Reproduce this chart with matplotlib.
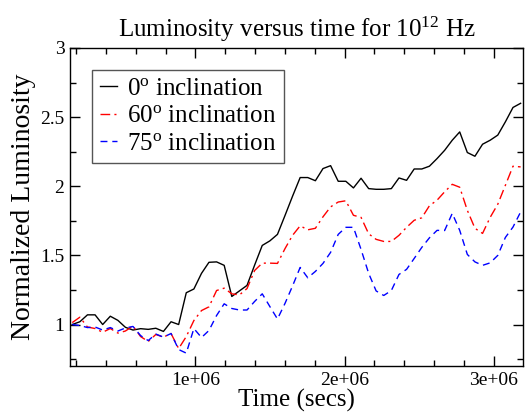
import matplotlib
matplotlib.use("Agg")
import matplotlib.pyplot as plt
from matplotlib.ticker import MultipleLocator, FuncFormatter

plt.rcParams['font.family'] = ['Liberation Serif', 'DejaVu Serif']
plt.rcParams['mathtext.fontset'] = 'custom'
plt.rcParams['mathtext.rm'] = 'Liberation Serif'
plt.rcParams['mathtext.it'] = 'Liberation Serif:italic'

# time in units of 1e6 s
time_1e6 = [0.175, 0.226, 0.277, 0.328, 0.379, 0.430, 0.481, 0.531, 0.582, 0.633,
            0.684, 0.735, 0.786, 0.837, 0.888, 0.939, 0.990, 1.041, 1.091, 1.142,
            1.193, 1.244, 1.295, 1.346, 1.397, 1.448, 1.499, 1.550, 1.601, 1.651,
            1.702, 1.753, 1.804, 1.855, 1.906, 1.957, 2.008, 2.059, 2.110, 2.161,
            2.211, 2.262, 2.313, 2.364, 2.415, 2.466, 2.517, 2.568, 2.619, 2.670,
            2.721, 2.771, 2.822, 2.873, 2.924, 2.975, 3.026, 3.077, 3.128, 3.179]

lum_0deg = [1.00, 1.02, 1.07, 1.07, 1.00, 1.06, 1.03, 0.98, 0.96, 0.97,
            0.965, 0.973, 0.95, 1.02, 1.00, 1.23, 1.257, 1.37, 1.45, 1.453,
            1.428, 1.203, 1.243, 1.283, 1.43, 1.572, 1.605, 1.652, 1.79, 1.928,
            2.063, 2.063, 2.04, 2.128, 2.149, 2.036, 2.036, 1.988, 2.058, 1.983,
            1.978, 1.978, 1.983, 2.06, 2.043, 2.125, 2.125, 2.145, 2.20, 2.26,
            2.333, 2.393, 2.244, 2.217, 2.304, 2.333, 2.37, 2.466, 2.57, 2.60]

lum_60deg = [1.014, 1.053, 0.982, 0.971, 0.944, 0.971, 0.938, 0.953, 0.989, 0.913,
             0.877, 0.928, 0.909, 0.935, 0.826, 0.913, 1.029, 1.101, 1.128, 1.246,
             1.263, 1.222, 1.214, 1.26, 1.391, 1.444, 1.444, 1.442, 1.55, 1.645,
             1.714, 1.685, 1.696, 1.779, 1.851, 1.886, 1.895, 1.79, 1.775, 1.656,
             1.616, 1.601, 1.601, 1.645, 1.703, 1.754, 1.772, 1.859, 1.899, 1.96,
             2.014, 1.993, 1.826, 1.696, 1.659, 1.775, 1.87, 2.007, 2.145, 2.14]

lum_75deg = [1.00, 0.993, 0.978, 0.982, 0.96, 0.978, 0.953, 0.975, 0.986, 0.92,
             0.884, 0.931, 0.909, 0.935, 0.819, 0.793, 0.971, 0.906, 0.957, 1.065,
             1.15, 1.116, 1.105, 1.105, 1.167, 1.222, 1.13, 1.04, 1.154, 1.279,
             1.413, 1.338, 1.384, 1.442, 1.522, 1.652, 1.703, 1.703, 1.543, 1.37,
             1.243, 1.21, 1.246, 1.362, 1.399, 1.478, 1.558, 1.627, 1.681, 1.68,
             1.804, 1.681, 1.507, 1.453, 1.428, 1.446, 1.50, 1.63, 1.705, 1.814]

labels = [r'0$^{\mathrm{o}}$ inclination', r'60$^{\mathrm{o}}$ inclination',
          r'75$^{\mathrm{o}}$ inclination']

time_s = [t * 1e6 for t in time_1e6]

fig = plt.figure(figsize=(5.27, 4.12), dpi=100)
ax = fig.add_axes([70/527, 1 - 366/412, 453/527, 318/412])

ax.plot(time_s, lum_0deg, color='black', lw=1.0, ls='-', label=labels[0])
ax.plot(time_s, lum_60deg, color='red', lw=1.0, dashes=(7, 3, 1.5, 3), label=labels[1])
ax.plot(time_s, lum_75deg, color='blue', lw=1.0, dashes=(5, 3.5), label=labels[2])

ax.set_xlim(time_s[0] - 0.015e6, 3.195e6)
ax.set_ylim(0.7, 3.0)

ax.xaxis.set_major_locator(MultipleLocator(1e6))
ax.xaxis.set_minor_locator(MultipleLocator(0.2e6))
ax.yaxis.set_major_locator(MultipleLocator(0.5))
ax.yaxis.set_minor_locator(MultipleLocator(0.25))
ax.xaxis.set_major_formatter(FuncFormatter(lambda v, p: '%g' % v))
ax.yaxis.set_major_formatter(FuncFormatter(lambda v, p: '%g' % v))

ax.tick_params(which='both', direction='in', top=True, right=True, width=1.0, colors='black')
ax.tick_params(which='major', length=7, labelsize=14, pad=4)
ax.tick_params(which='minor', length=4)
for s in ax.spines.values():
    s.set_linewidth(1.0)

ax.set_xlabel('Time (secs)', fontsize=18, labelpad=0)
ax.set_ylabel('Normalized Luminosity', fontsize=20, labelpad=3)
ax.set_title(r'Luminosity versus time for 10$^{12}$ Hz', fontsize=18, pad=8)

leg = ax.legend(loc='upper left', bbox_to_anchor=(22/453, 296/318), borderaxespad=0,
                fontsize=18, handlelength=0.7, handletextpad=0.4, borderpad=0.3,
                labelspacing=0.2, fancybox=False, framealpha=1, edgecolor='#555555')
leg.get_frame().set_linewidth(1.0)

fig.savefig('out.png', dpi=100)
